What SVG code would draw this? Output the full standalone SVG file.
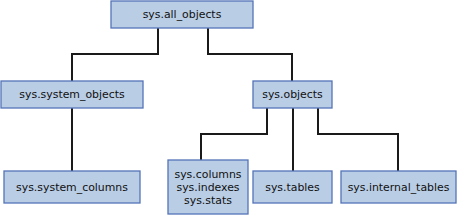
<svg xmlns="http://www.w3.org/2000/svg" width="457" height="215" viewBox="0 0 457 215">
<style>
.box{fill:#B9CDE5;stroke:#5473B8;stroke-width:1.3}
.t{font-family:"DejaVu Sans",Verdana,sans-serif;font-size:10.9px;fill:#111;text-anchor:middle;dominant-baseline:central}
.c{fill:none;stroke:#1a1a1a;stroke-width:2}
</style>
<rect width="457" height="215" fill="#fff"/>
<g id="connectors">
<polyline class="c" points="158,28 158,54 72,54 72,81"/>
<polyline class="c" points="208,28 208,54 292,54 292,81"/>
<line class="c" x1="72" y1="108" x2="72" y2="171"/>
<polyline class="c" points="267,108 267,134 201,134 201,160"/>
<line class="c" x1="293" y1="108" x2="293" y2="171"/>
<polyline class="c" points="318,108 318,134 398,134 398,171"/>
</g>
<g id="all_objects"><rect class="box" x="111" y="1" width="142" height="27"/><text class="t" x="182" y="14.5">sys.all_objects</text></g>
<g id="system_objects"><rect class="box" x="1" y="81" width="142" height="27"/><text class="t" x="72" y="94.5">sys.system_objects</text></g>
<g id="objects"><rect class="box" x="253" y="81" width="79" height="27"/><text class="t" x="292.5" y="94.5">sys.objects</text></g>
<g id="system_columns"><rect class="box" x="4" y="171" width="136" height="32"/><text class="t" x="72" y="187">sys.system_columns</text></g>
<g id="columns"><rect class="box" x="168" y="160" width="80" height="54"/><text class="t" x="208" y="174">sys.columns</text><text class="t" x="208" y="187">sys.indexes</text><text class="t" x="208" y="200">sys.stats</text></g>
<g id="tables"><rect class="box" x="253" y="171" width="79" height="32"/><text class="t" x="292.5" y="187">sys.tables</text></g>
<g id="internal_tables"><rect class="box" x="341" y="171" width="115" height="32"/><text class="t" x="398.5" y="187">sys.internal_tables</text></g>
</svg>
